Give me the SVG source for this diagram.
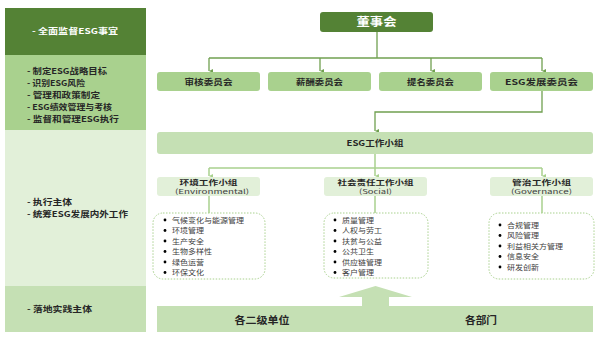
<svg xmlns="http://www.w3.org/2000/svg" width="600" height="339" viewBox="0 0 600 339">
<defs>
<style>
text{font-family:"Noto Sans CJK SC","Liberation Sans",sans-serif;}
.lbl{font-size:8px;font-weight:bold;fill:#262626;text-anchor:middle;}
.t1{font-size:7px;font-weight:bold;fill:#262626;text-anchor:middle;}
.t2{font-size:6.6px;fill:#404040;text-anchor:middle;}
.side{font-size:8px;font-weight:bold;fill:#262626;}
.item{font-size:7px;fill:#404040;}
.dk{stroke:#70a050;stroke-width:1.3;fill:none;}
.lt{stroke:#a9d18e;stroke-width:1.5;fill:none;}
.dash{fill:#fff;stroke:#a9d18e;stroke-width:1;stroke-dasharray:1.5 1.5;}
</style>
<marker id="ad" markerWidth="6" markerHeight="6" refX="3" refY="5" orient="auto-start-reverse" markerUnits="userSpaceOnUse" viewBox="0 0 6 6"><path d="M1,1 L3,5 L5,1 Z" fill="#70a050"/></marker>
<marker id="al" markerWidth="6" markerHeight="6" refX="3" refY="5" orient="auto-start-reverse" markerUnits="userSpaceOnUse" viewBox="0 0 6 6"><path d="M1,1 L3,5 L5,1 Z" fill="#a9d18e"/></marker>
</defs>
<rect width="600" height="339" fill="#fff"/>

<g id="side">
<rect x="5" y="8" width="141" height="47" fill="#548235"/>
<rect x="5" y="55" width="141" height="75" fill="#a9d18e"/>
<rect x="5" y="130" width="141" height="156" fill="#e2f0d9"/>
<rect x="5" y="286" width="141" height="46" fill="#c5e0b4"/>
<text x="32" y="34" class="side" style="fill:#fff" textLength="86" lengthAdjust="spacingAndGlyphs">- 全面监督ESG事宜</text>
<text x="27" y="74" class="side" textLength="80" lengthAdjust="spacingAndGlyphs">- 制定ESG战略目标</text>
<text x="27" y="86" class="side" textLength="58" lengthAdjust="spacingAndGlyphs">- 识别ESG风险</text>
<text x="27" y="98" class="side" textLength="73" lengthAdjust="spacingAndGlyphs">- 管理和政策制定</text>
<text x="27" y="110" class="side" textLength="85" lengthAdjust="spacingAndGlyphs">- ESG绩效管理与考核</text>
<text x="27" y="121.5" class="side" textLength="92" lengthAdjust="spacingAndGlyphs">- 监督和管理ESG执行</text>
<text x="27" y="205" class="side" textLength="45" lengthAdjust="spacingAndGlyphs">- 执行主体</text>
<text x="27" y="217" class="side" textLength="101" lengthAdjust="spacingAndGlyphs">- 统筹ESG发展内外工作</text>
<text x="27" y="312" class="side" textLength="65" lengthAdjust="spacingAndGlyphs">- 落地实践主体</text>
</g>

<g id="connectors">
<path class="dk" d="M377,32 V58"/>
<path class="dk" d="M209,58 H542"/>
<path class="dk" d="M209,58 V71" marker-end="url(#ad)"/>
<path class="dk" d="M320,58 V71" marker-end="url(#ad)"/>
<path class="dk" d="M431,58 V71" marker-end="url(#ad)"/>
<path class="dk" d="M542,58 V71" marker-end="url(#ad)"/>
<path class="dk" d="M542,91 V112 H375 V131" marker-end="url(#ad)"/>
<path class="lt" d="M375,154 V168"/>
<path class="lt" d="M209,168 H542"/>
<path class="lt" d="M209,168 V176" marker-end="url(#al)"/>
<path class="lt" d="M375,168 V176" marker-end="url(#al)"/>
<path class="lt" d="M542,168 V176" marker-end="url(#al)"/>
<path class="lt" d="M209,196 V213"/>
<path class="lt" d="M375,196 V213"/>
<path class="lt" d="M542,196 V213"/>
</g>

<g id="board">
<rect x="320" y="12" width="113" height="20" rx="3" fill="#548235"/>
<text x="376.5" y="26" class="lbl" style="fill:#fff;font-size:11.5px" textLength="40" lengthAdjust="spacingAndGlyphs">董事会</text>
</g>

<g id="audit"><rect x="157" y="72" width="103" height="19" rx="3" fill="#a9d18e"/><text x="208.5" y="84.5" class="lbl" textLength="48" lengthAdjust="spacingAndGlyphs">审核委员会</text></g>
<g id="remuneration"><rect x="268" y="72" width="103" height="19" rx="3" fill="#a9d18e"/><text x="319.5" y="84.5" class="lbl" textLength="47" lengthAdjust="spacingAndGlyphs">薪酬委员会</text></g>
<g id="nomination"><rect x="379" y="72" width="103" height="19" rx="3" fill="#a9d18e"/><text x="430.5" y="84.5" class="lbl" textLength="47" lengthAdjust="spacingAndGlyphs">提名委员会</text></g>
<g id="esgcommittee"><rect x="490" y="72" width="103" height="19" rx="3" fill="#a9d18e"/><text x="541.5" y="84.5" class="lbl" textLength="73" lengthAdjust="spacingAndGlyphs">ESG发展委员会</text></g>

<g id="esgworking"><rect x="157" y="132" width="436" height="22" rx="3" fill="#c5e0b4"/><text x="375" y="146" class="lbl" textLength="57" lengthAdjust="spacingAndGlyphs">ESG工作小组</text></g>

<g id="env">
<rect x="157" y="177" width="103" height="19" rx="3" fill="#e2f0d9"/>
<text x="208.5" y="184.5" class="t1" textLength="58" lengthAdjust="spacingAndGlyphs">环境工作小组</text>
<text x="212" y="193.6" class="t2" textLength="74" lengthAdjust="spacingAndGlyphs">(Environmental)</text>
</g>
<g id="soc">
<rect x="324" y="177" width="103" height="19" rx="3" fill="#e2f0d9"/>
<text x="375.5" y="184.5" class="t1" textLength="76" lengthAdjust="spacingAndGlyphs">社会责任工作小组</text>
<text x="375.5" y="193.6" class="t2" textLength="33" lengthAdjust="spacingAndGlyphs">(Social)</text>
</g>
<g id="gov">
<rect x="490" y="177" width="103" height="19" rx="3" fill="#e2f0d9"/>
<text x="541.5" y="184.5" class="t1" textLength="59" lengthAdjust="spacingAndGlyphs">管治工作小组</text>
<text x="541.5" y="193.6" class="t2" textLength="61" lengthAdjust="spacingAndGlyphs">(Governance)</text>
</g>

<g id="envlist">
<rect x="153" y="213" width="112" height="66" rx="10" class="dash"/>
<g fill="#000"><circle cx="165" cy="220" r="1.4"/><circle cx="165" cy="230.5" r="1.4"/><circle cx="165" cy="241" r="1.4"/><circle cx="165" cy="251.5" r="1.4"/><circle cx="165" cy="262" r="1.4"/><circle cx="165" cy="272.5" r="1.4"/></g>
<text x="172" y="222.5" class="item" textLength="72" lengthAdjust="spacingAndGlyphs">气候变化与能源管理</text>
<text x="172" y="233" class="item" textLength="32" lengthAdjust="spacingAndGlyphs">环境管理</text>
<text x="172" y="243.5" class="item" textLength="32" lengthAdjust="spacingAndGlyphs">生产安全</text>
<text x="172" y="254" class="item" textLength="40" lengthAdjust="spacingAndGlyphs">生物多样性</text>
<text x="172" y="264.5" class="item" textLength="32" lengthAdjust="spacingAndGlyphs">绿色运营</text>
<text x="172" y="275" class="item" textLength="32" lengthAdjust="spacingAndGlyphs">环保文化</text>
</g>
<g id="soclist">
<rect x="324" y="213" width="104" height="65" rx="10" class="dash"/>
<g fill="#000"><circle cx="335" cy="220" r="1.4"/><circle cx="335" cy="230.5" r="1.4"/><circle cx="335" cy="241" r="1.4"/><circle cx="335" cy="251.5" r="1.4"/><circle cx="335" cy="262" r="1.4"/><circle cx="335" cy="272.5" r="1.4"/></g>
<text x="342" y="222.5" class="item" textLength="32" lengthAdjust="spacingAndGlyphs">质量管理</text>
<text x="342" y="233" class="item" textLength="40" lengthAdjust="spacingAndGlyphs">人权与劳工</text>
<text x="342" y="243.5" class="item" textLength="40" lengthAdjust="spacingAndGlyphs">扶贫与公益</text>
<text x="342" y="254" class="item" textLength="32" lengthAdjust="spacingAndGlyphs">公共卫生</text>
<text x="342" y="264.5" class="item" textLength="40" lengthAdjust="spacingAndGlyphs">供应链管理</text>
<text x="342" y="275" class="item" textLength="32" lengthAdjust="spacingAndGlyphs">客户管理</text>
</g>
<g id="govlist">
<rect x="489" y="213" width="105" height="66" rx="10" class="dash"/>
<g fill="#000"><circle cx="500" cy="225" r="1.4"/><circle cx="500" cy="235.5" r="1.4"/><circle cx="500" cy="246" r="1.4"/><circle cx="500" cy="256.5" r="1.4"/><circle cx="500" cy="267" r="1.4"/></g>
<text x="507" y="227.5" class="item" textLength="32" lengthAdjust="spacingAndGlyphs">合规管理</text>
<text x="507" y="238" class="item" textLength="32" lengthAdjust="spacingAndGlyphs">风险管理</text>
<text x="507" y="248.5" class="item" textLength="56" lengthAdjust="spacingAndGlyphs">利益相关方管理</text>
<text x="507" y="259" class="item" textLength="32" lengthAdjust="spacingAndGlyphs">信息安全</text>
<text x="507" y="269.5" class="item" textLength="32" lengthAdjust="spacingAndGlyphs">研发创新</text>
</g>

<g id="base">
<path d="M157,306 H362 V297 H339 L375.5,286 L412,297 H389 V306 H593 V332 H157 Z" fill="#c5e0b4"/>
<text x="262" y="323.5" class="lbl" style="font-size:10px" textLength="55" lengthAdjust="spacingAndGlyphs">各二级单位</text>
<text x="481" y="323.5" class="lbl" style="font-size:10px" textLength="32" lengthAdjust="spacingAndGlyphs">各部门</text>
</g>
</svg>
